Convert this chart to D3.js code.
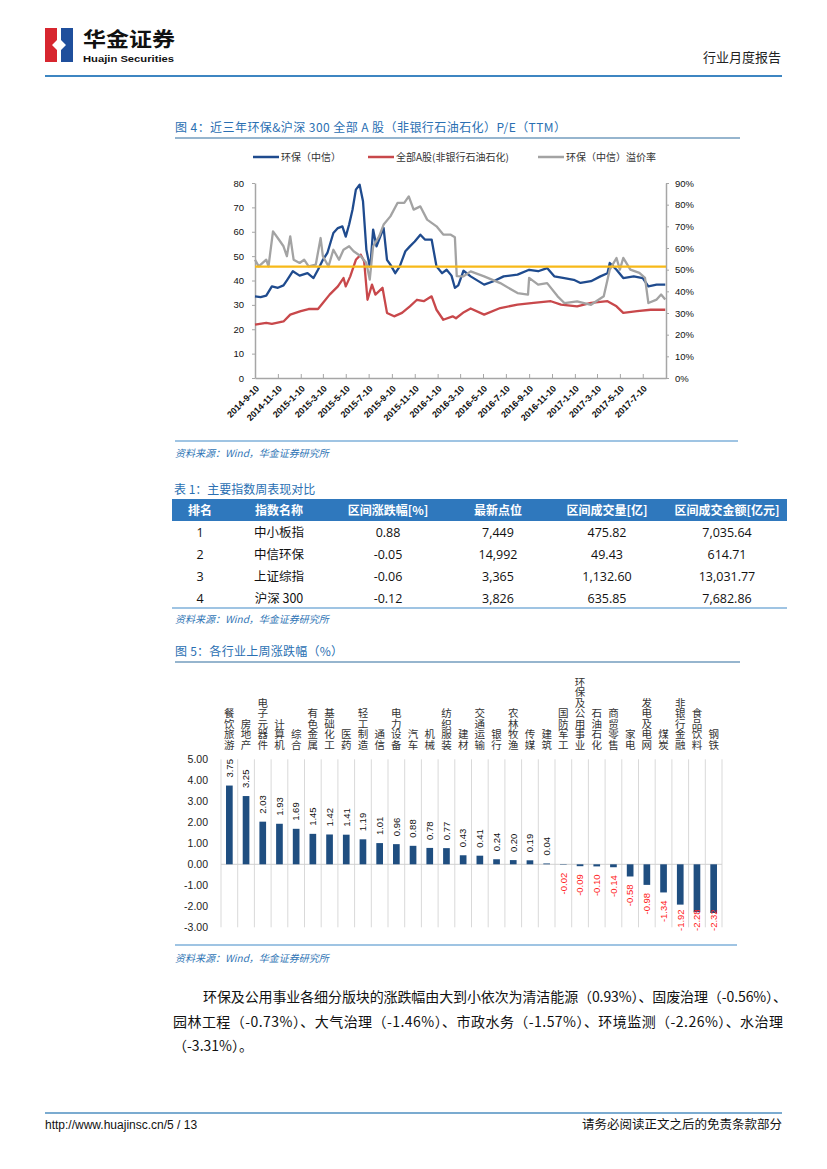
<!DOCTYPE html>
<html><head><meta charset="utf-8">
<script src="https://cdn.jsdelivr.net/npm/d3@7"></script>
<style>body{margin:0;background:#fff}svg{display:block}</style>
</head><body>
<svg id="page" width="827" height="1169"></svg>
<script>
// ---------------- DATA ----------------
const envPE = [["2014-09-10",33.5],["2014-09-25",33.2],["2014-10-10",33.8],["2014-10-25",37.6],["2014-11-10",37],["2014-11-25",38],["2014-12-05",40.3],["2014-12-20",43.8],["2015-01-07",42],["2015-01-28",43],["2015-02-13",41],["2015-02-25",44.4],["2015-03-10",48.5],["2015-03-22",51.3],["2015-04-07",59.5],["2015-04-19",61.5],["2015-05-01",62.2],["2015-05-10",58],["2015-05-19",63],["2015-05-28",69],["2015-06-06",77.3],["2015-06-16",79.3],["2015-06-25",72.5],["2015-07-04",52.6],["2015-07-13",45.8],["2015-07-16",48.5],["2015-07-22",60.9],["2015-07-31",54],["2015-08-10",58],["2015-08-19",61.5],["2015-08-28",48.5],["2015-09-06",46.5],["2015-09-19",43],["2015-10-01",45.8],["2015-10-16",52],["2015-10-28",54],["2015-11-10",56],["2015-11-25",58.8],["2015-12-07",56.8],["2015-12-25",56.8],["2016-01-07",45.8],["2016-01-22",43],["2016-02-03",44.4],["2016-02-16",42],["2016-02-25",37],["2016-03-05",38],["2016-03-19",44],["2016-04-07",41.7],["2016-05-13",38.3],["2016-06-07",39.7],["2016-07-04",41.7],["2016-08-10",42.4],["2016-09-10",44.4],["2016-10-04",43.8],["2016-10-28",45.1],["2016-11-16",41.7],["2016-12-13",41],["2017-01-07",40.3],["2017-01-25",39],["2017-02-22",39.7],["2017-03-19",41.7],["2017-04-07",43],["2017-04-13",47.2],["2017-05-01",44.4],["2017-05-19",41],["2017-06-16",41.7],["2017-07-10",41],["2017-07-25",37.6],["2017-08-16",38.3],["2017-09-08",38.3]];
const allAPE = [["2014-09-10",21.9],["2014-10-10",22.6],["2014-10-25",22.2],["2014-11-25",23.2],["2014-12-13",26],["2015-01-10",27.4],["2015-01-31",28.3],["2015-02-25",28.3],["2015-03-10",30.8],["2015-03-28",34.2],["2015-04-19",37.6],["2015-05-04",41],["2015-05-10",37.6],["2015-05-22",41.7],["2015-06-06",48.5],["2015-06-19",50.6],["2015-06-28",47.9],["2015-07-07",32.1],["2015-07-19",38.3],["2015-07-28",34.2],["2015-08-16",37],["2015-08-28",26.7],["2015-09-16",25.3],["2015-10-07",26.7],["2015-10-28",29.4],["2015-11-16",32.1],["2015-12-04",31.5],["2015-12-25",33.5],["2016-01-07",28],["2016-01-25",23.9],["2016-02-19",25.3],["2016-02-28",24.5],["2016-03-20",27],["2016-04-07",28.5],["2016-05-13",26],["2016-06-25",28.7],["2016-08-10",30.1],["2016-09-22",30.8],["2016-11-07",31.5],["2016-12-04",30.1],["2017-01-16",29.4],["2017-02-22",30.8],["2017-04-07",31.5],["2017-05-01",29.4],["2017-05-19",26.7],["2017-06-25",27.4],["2017-07-31",28],["2017-09-08",28]];
const premium = [["2014-09-10",54.6],["2014-09-20",51.5],["2014-10-10",54.6],["2014-10-16",51.5],["2014-10-28",67.7],["2014-11-13",63.8],["2014-11-25",60.8],["2014-12-04",56.2],["2014-12-13",65.4],["2014-12-22",54.6],["2015-01-07",53.1],["2015-01-19",54.6],["2015-01-31",51.5],["2015-02-19",52.3],["2015-03-04",64.6],["2015-03-10",56.2],["2015-03-25",51.5],["2015-04-07",59.2],["2015-04-22",54.6],["2015-05-04",59.2],["2015-05-19",60.8],["2015-05-31",58.5],["2015-06-19",56.2],["2015-07-04",53.1],["2015-07-13",45.4],["2015-07-22",60.8],["2015-08-07",65.4],["2015-08-19",70.8],["2015-09-06",74.6],["2015-09-25",80.8],["2015-10-13",80.8],["2015-10-25",83.8],["2015-11-07",77.7],["2015-11-25",79.2],["2015-12-13",73.1],["2016-01-07",70],["2016-01-25",66.2],["2016-02-13",66.2],["2016-02-25",65],["2016-03-01",47],["2016-03-19",46.9],["2016-04-07",49.2],["2016-05-13",46.9],["2016-06-25",43.8],["2016-08-10",39.2],["2016-09-07",38.5],["2016-09-10",46.2],["2016-10-04",43.1],["2016-10-28",43.8],["2016-11-25",37.7],["2016-12-13",34.6],["2017-01-16",35.4],["2017-02-22",33.8],["2017-03-28",37.7],["2017-04-13",50],["2017-05-01",55.4],["2017-05-10",50],["2017-05-19",55.4],["2017-06-07",50],["2017-07-01",48.5],["2017-07-16",46.2],["2017-07-25",34.6],["2017-08-16",36.2],["2017-08-28",38.5],["2017-09-08",36.2]];
const avgPremium = 51.4;
const xTickDates = ["2014-09-10","2014-11-10","2015-01-10","2015-03-10","2015-05-10","2015-07-10","2015-09-10","2015-11-10","2016-01-10","2016-03-10","2016-05-10","2016-07-10","2016-09-10","2016-11-10","2017-01-10","2017-03-10","2017-05-10","2017-07-10"];
const leftTicks = [0,10,20,30,40,50,60,70,80];
const rightTicks = [0,10,20,30,40,50,60,70,80,90];
const seriesNames = ["环保（中信）","全部A股(非银行石油石化)","环保（中信）溢价率"];

const tableHead = ["排名","指数名称","区间涨跌幅[%]","最新点位","区间成交量[亿]","区间成交金额[亿元]"];
const ranks = [1,2,3,4];
const indexNames = ["中小板指","中信环保","上证综指","沪深 300"];
const pctChange = [0.88,-0.05,-0.06,-0.12];
const latestLevel = [7449,14992,3365,3826];
const volume = [475.82,49.43,1132.60,635.85];
const turnover = [7035.64,614.71,13031.77,7682.86];

const industries = ["餐饮旅游","房地产","电子元器件","计算机","综合","有色金属","基础化工","医药","轻工制造","通信","电力设备","汽车","机械","纺织服装","建材","交通运输","银行","农林牧渔","传媒","建筑","国防军工","环保及公用事业","石油石化","商贸零售","家电","发电及电网","煤炭","非银行金融","食品饮料","钢铁"];
const changes = [3.75,3.25,2.03,1.93,1.69,1.45,1.42,1.41,1.19,1.01,0.96,0.88,0.78,0.77,0.43,0.41,0.24,0.20,0.19,0.04,-0.02,-0.09,-0.10,-0.14,-0.58,-0.98,-1.34,-1.92,-2.28,-2.32];
const barTicks = [5,4,3,2,1,0,-1,-2,-3];

// ---------------- DRAW ----------------
const CJK = "'Noto Sans CJK SC','Noto Sans',sans-serif";
const ARIAL = "'Liberation Sans',Arial,sans-serif";
const TITLE_BLUE = "#2a6fb2";
const loc = d3.formatLocale({decimal:".",thousands:",",grouping:[3],currency:["",""],minus:"-"});
const parse = d3.timeParse("%Y-%m-%d");
const svg = d3.select("#page");
svg.append("rect").attr("width",827).attr("height",1169).attr("fill","#fff");

// header
const logo = svg.append("g");
logo.append("rect").attr("x",45).attr("y",28).attr("width",14).attr("height",34).attr("fill","#d7262f");
logo.append("rect").attr("x",59).attr("y",28).attr("width",14).attr("height",34).attr("fill","#1f4f9c");
logo.append("path").attr("d","M57,28 L61,28 L61,40 L66,45 L61,50 L61,62 L57,62 L57,50 L52,45 L57,40 Z").attr("fill","#fff");
svg.append("text").attr("x",83).attr("y",47).attr("font-family",CJK).attr("font-weight","bold").attr("font-size",20.5)
  .attr("textLength",92).attr("lengthAdjust","spacingAndGlyphs").attr("fill","#111").text("华金证券");
svg.append("text").attr("x",83).attr("y",61.5).attr("font-family",ARIAL).attr("font-weight","bold").attr("font-size",9.5)
  .attr("textLength",91).attr("lengthAdjust","spacingAndGlyphs").attr("fill","#111").text("Huajin Securities");
svg.append("text").attr("x",781).attr("y",62).attr("text-anchor","end").attr("font-family",CJK).attr("font-size",13).attr("fill","#222").text("行业月度报告");
svg.append("line").attr("x1",45).attr("x2",782).attr("y1",76).attr("y2",76).attr("stroke","#3d86c2").attr("stroke-width",2);

// footer
svg.append("line").attr("x1",45).attr("x2",782).attr("y1",1113).attr("y2",1113).attr("stroke","#4f8fc0").attr("stroke-width",1.5);
svg.append("text").attr("x",45).attr("y",1129).attr("font-family",ARIAL).attr("font-size",12).attr("fill","#111").text("http://www.huajinsc.cn/5 / 13");
svg.append("text").attr("x",782).attr("y",1129).attr("text-anchor","end").attr("font-family",CJK).attr("font-size",12.5).attr("fill","#111").text("请务必阅读正文之后的免责条款部分");

function titleBlock(txt, y, lineY, x2, w){
  const t = svg.append("text").attr("x",175).attr("y",y).attr("font-family",CJK).attr("font-size",12).attr("fill",TITLE_BLUE).text(txt);
  if(w) t.attr("textLength",w).attr("lengthAdjust","spacing");
  if(lineY) svg.append("line").attr("x1",175).attr("x2",x2).attr("y1",lineY).attr("y2",lineY).attr("stroke","#2f6c9e").attr("stroke-width",1.2);
}
function sourceBlock(y, lineY, x1, x2){
  svg.append("line").attr("x1",x1).attr("x2",x2).attr("y1",lineY).attr("y2",lineY).attr("stroke","#7fb0da").attr("stroke-width",1.5);
  svg.append("text").attr("x",175).attr("y",y).attr("font-family",CJK).attr("font-size",10).attr("font-style","italic").attr("fill","#2f75b5").text("资料来源：Wind，华金证券研究所");
}

// ---- Figure 4 ----
titleBlock("图 4：近三年环保&沪深 300 全部 A 股（非银行石油石化）P/E（TTM）",132,138,740,391);
const lineColors = ["#1f4b8e","#c8484b","#a3a3a3"];
const legendX = [253,368,538];
seriesNames.forEach((n,i)=>{
  svg.append("line").attr("x1",legendX[i]).attr("x2",legendX[i]+26).attr("y1",157).attr("y2",157).attr("stroke",lineColors[i]).attr("stroke-width",2.5);
  svg.append("text").attr("x",legendX[i]+28).attr("y",161).attr("font-family",CJK).attr("font-size",10).attr("fill","#333").text(n);
});
const x = d3.scaleTime().domain([parse("2014-09-10"),parse("2017-09-10")]).range([255,666]);
const yL = d3.scaleLinear().domain([0,80]).range([378,183]);
const yR = d3.scaleLinear().domain([0,90]).range([378,183]);
function styleAxis(g){
  g.select(".domain").attr("stroke","#a6a6a6").attr("stroke-width",1.5);
  g.selectAll(".tick line").attr("stroke","#a6a6a6");
  g.selectAll("text").attr("font-family",ARIAL).attr("fill","#111");
}
const gL = svg.append("g").attr("transform","translate(255,0)")
  .call(d3.axisLeft(yL).tickValues(leftTicks).tickSize(3).tickPadding(8).tickSizeOuter(0));
styleAxis(gL); gL.selectAll("text").attr("font-size",9.5);
const gR = svg.append("g").attr("transform","translate(666,0)")
  .call(d3.axisRight(yR).tickValues(rightTicks).tickFormat(d=>d+"%").tickSize(3).tickPadding(6).tickSizeOuter(0));
styleAxis(gR); gR.selectAll("text").attr("font-size",9.5);
const gB = svg.append("g").attr("transform","translate(0,378)")
  .call(d3.axisBottom(x).tickValues(xTickDates.map(parse)).tickFormat(d3.timeFormat("%Y-%-m-%-d")).tickSizeInner(-4).tickSizeOuter(0));
styleAxis(gB);
gB.selectAll("text").attr("font-size",9).attr("font-weight","bold").attr("x",0).attr("y",0).attr("dy","0.35em")
  .attr("text-anchor","end").attr("transform","translate(2,9) rotate(-45)");

const lineL = d3.line().x(d=>x(parse(d[0]))).y(d=>yL(d[1]));
const lineR = d3.line().x(d=>x(parse(d[0]))).y(d=>yR(d[1]));
svg.append("path").attr("d",lineL(envPE)).attr("fill","none").attr("stroke",lineColors[0]).attr("stroke-width",2.3).attr("stroke-linejoin","round");
svg.append("path").attr("d",lineL(allAPE)).attr("fill","none").attr("stroke",lineColors[1]).attr("stroke-width",2.3).attr("stroke-linejoin","round");
svg.append("path").attr("d",lineR(premium)).attr("fill","none").attr("stroke",lineColors[2]).attr("stroke-width",2.3).attr("stroke-linejoin","round");
svg.append("line").attr("x1",x.range()[0]).attr("x2",x.range()[1]).attr("y1",yR(avgPremium)).attr("y2",yR(avgPremium)).attr("stroke","#f7b918").attr("stroke-width",2.2);
sourceBlock(457,441,175,738);

// ---- Table 1 ----
svg.append("text").attr("x",174).attr("y",494).attr("font-family",CJK).attr("font-size",12).attr("fill",TITLE_BLUE).text("表 1：主要指数周表现对比");
svg.append("rect").attr("x",172).attr("y",499).attr("width",615).attr("height",22).attr("fill","#2f78bd");
const colX = [200,279,388,498,607,727];
tableHead.forEach((h,i)=>{
  svg.append("text").attr("x",colX[i]).attr("y",514.5).attr("text-anchor","middle").attr("font-family",CJK).attr("font-weight","bold").attr("font-size",12).attr("fill","#fff").text(h);
});
const fmtLevel = loc.format(","), fmtVol = loc.format(",.2f"), fmtPct = loc.format(".2f");
ranks.forEach((r,i)=>{
  const cells = [String(r), indexNames[i], fmtPct(pctChange[i]), fmtLevel(latestLevel[i]), fmtVol(volume[i]), fmtVol(turnover[i])];
  const yy = 536.5 + i*22;
  cells.forEach((c,j)=>{
    svg.append("text").attr("x",colX[j]).attr("y",yy).attr("text-anchor","middle").attr("font-family",j===1?CJK:"'Open Sans','Noto Sans',sans-serif").attr("font-size",12.5).attr("fill","#111").text(c);
  });
});
sourceBlock(623,608,172,787);

// ---- Figure 5 ----
titleBlock("图 5：各行业上周涨跌幅（%）",656,662,740,168);
const xb = d3.scaleBand().domain(industries).range([221,722]).paddingInner(0.6).paddingOuter(0.3);
const yb = d3.scaleLinear().domain([-3,5]).range([927.3,759.3]);
const step = xb.step();
industries.forEach((d,i)=>{
  const bx = xb(d) + xb.bandwidth()/2 - step/2;
  svg.append("line").attr("x1",bx).attr("x2",bx).attr("y1",yb(5)).attr("y2",yb(-3)).attr("stroke","#d9d9d9").attr("stroke-width",1);
  if(i===industries.length-1){
    svg.append("line").attr("x1",bx+step).attr("x2",bx+step).attr("y1",yb(5)).attr("y2",yb(-3)).attr("stroke","#d9d9d9").attr("stroke-width",1);
  }
});
svg.append("line").attr("x1",xb.range()[0]).attr("x2",xb.range()[1]).attr("y1",yb(0)).attr("y2",yb(0)).attr("stroke","#d0d0d0").attr("stroke-width",1);
const gY = svg.append("g").attr("transform","translate(221,0)")
  .call(d3.axisLeft(yb).tickValues(barTicks).tickFormat(loc.format(".2f")).tickSize(0).tickPadding(13));
gY.select(".domain").remove();
gY.selectAll("text").attr("font-family",ARIAL).attr("font-size",10.5).attr("fill","#222");

svg.selectAll(".bar").data(industries).enter().append("rect")
  .attr("x",d=>xb(d)).attr("width",xb.bandwidth())
  .attr("y",(d,i)=>yb(Math.max(0,changes[i])))
  .attr("height",(d,i)=>Math.abs(yb(changes[i])-yb(0)))
  .attr("fill","#1f4e80");

industries.forEach((d,i)=>{
  const cx = xb(d)+xb.bandwidth()/2;
  svg.append("text").attr("font-family",CJK).attr("font-size",10.5).attr("fill","#333")
    .attr("writing-mode","tb").attr("text-anchor","end").attr("x",cx).attr("y",750).text(d);
  const v = changes[i];
  const lbl = svg.append("text").attr("font-family",ARIAL).attr("font-size",9.5).attr("dy","0.35em").text(fmtPct(v));
  if(v>=0){
    lbl.attr("text-anchor","start").attr("fill","#111").attr("transform",`translate(${cx},${yb(v)-8}) rotate(-90)`);
  } else {
    const len = lbl.node().getComputedTextLength();
    let top = yb(v)+8;
    if(top+len>931) top = 931-len;
    lbl.attr("text-anchor","start").attr("fill","#ff1a1a").attr("transform",`translate(${cx},${top+len}) rotate(-90)`);
  }
});
sourceBlock(962,945,175,737);

// ---- paragraph ----
const para = [
  {x:203,y:1002,w:584,t:"环保及公用事业各细分版块的涨跌幅由大到小依次为清洁能源（0.93%）、固废治理（-0.56%）、"},
  {x:173,y:1027,w:610,t:"园林工程（-0.73%）、大气治理（-1.46%）、市政水务（-1.57%）、环境监测（-2.26%）、水治理"},
  {x:173,y:1051,w:0,t:"（-3.31%）。"}
];
para.forEach(p=>{
  const t = svg.append("text").attr("x",p.x).attr("y",p.y).attr("font-family",CJK).attr("font-size",14).attr("fill","#111").text(p.t);
  if(p.w) t.attr("textLength",p.w).attr("lengthAdjust","spacing");
});
</script>
</body></html>
